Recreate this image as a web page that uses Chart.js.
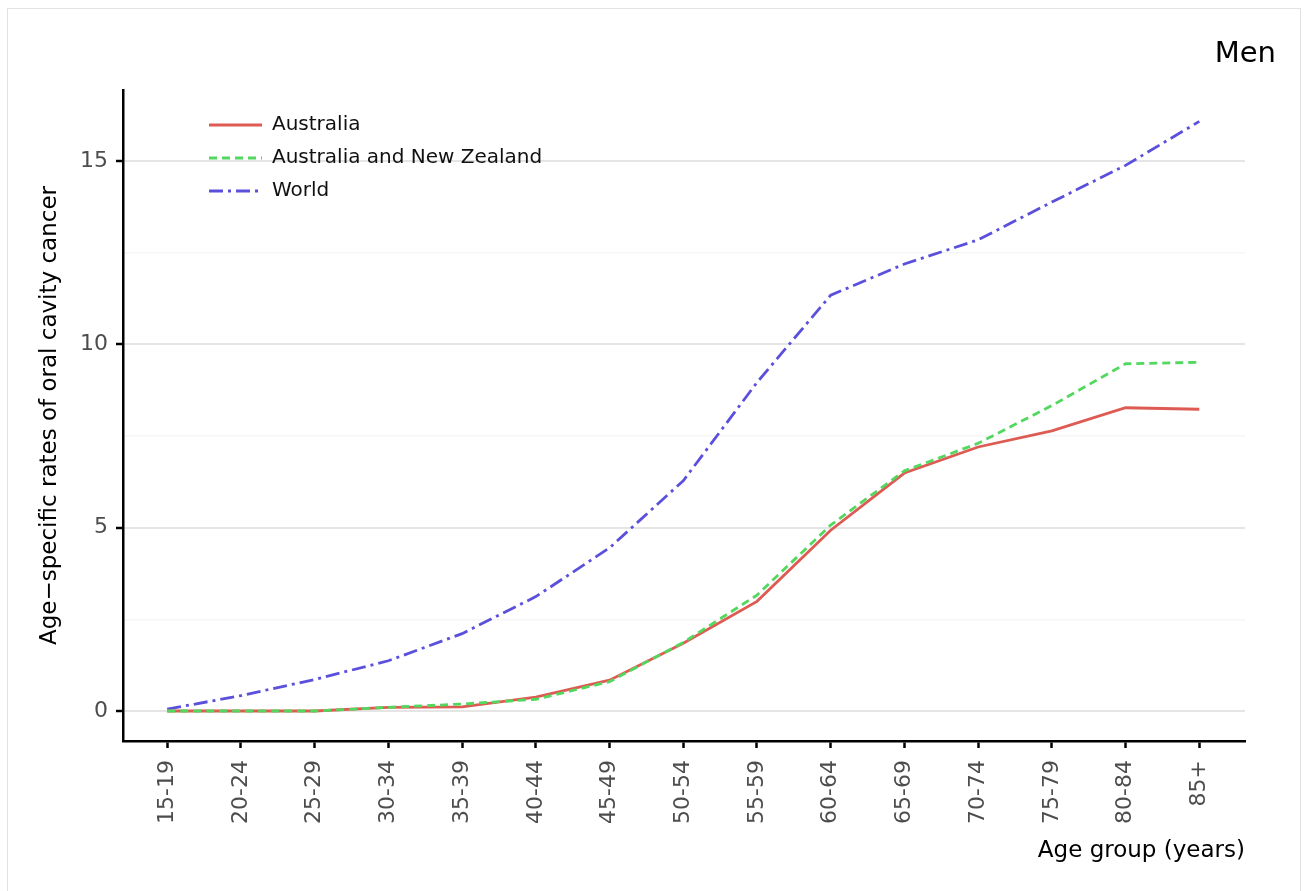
<!DOCTYPE html>
<html>
<head>
<meta charset="utf-8">
<script src="https://cdn.jsdelivr.net/npm/chart.js@4.4.0/dist/chart.umd.min.js"></script>
<style>
  html, body { margin: 0; padding: 0; background: #fff; overflow: hidden; }
  #frame { position: absolute; left: 7px; top: 8px; width: 1292px; height: 920px; border: 1px solid #e2e2e2; }
  #wrap { position: absolute; left: 0; top: 0; width: 1309px; height: 891px; }
</style>
</head>
<body>
<div id="frame"></div>
<div id="wrap"><canvas id="chart" width="1309" height="891"></canvas></div>
<script>
// Age groups on the x axis
const ageGroups = ["15-19", "20-24", "25-29", "30-34", "35-39", "40-44", "45-49",
    "50-54", "55-59", "60-64", "65-69", "70-74", "75-79", "80-84", "85+"];

// Age-specific rates, men
const australia = [0, 0, 0, 0.1, 0.11, 0.38, 0.84, 1.85, 2.99, 4.93, 6.49, 7.2, 7.64, 8.27, 8.23];
const ausNz = [0, 0, 0, 0.1, 0.19, 0.32, 0.8, 1.87, 3.16, 5.07, 6.55, 7.3, 8.33, 9.47, 9.51];
const world = [0.05, 0.42, 0.86, 1.37, 2.11, 3.12, 4.45, 6.28, 8.96, 11.34, 12.19, 12.85, 13.88, 14.88, 16.08];

// y ticks: majors get labels, minors only a faint grid line
const yTicks = [0, 2.5, 5, 7.5, 10, 12.5, 15];

const FONT = "'DejaVu Sans', sans-serif";
Chart.defaults.font.family = FONT;

const toPoints = (values) => values.map((v, i) => ({ x: i, y: v }));
const isMajor = (ctx) => ctx.tick && ctx.tick.value % 5 === 0;

// panel label + legend drawn inside the plot
const overlay = {
    id: "overlay",
    afterDraw(chart) {
        const ctx = chart.ctx;
        ctx.save();
        ctx.fillStyle = "#000";
        ctx.font = "29px " + FONT;
        ctx.textAlign = "right";
        ctx.textBaseline = "middle";
        ctx.fillText("Men", 1276, 54);

        ctx.font = "20px " + FONT;
        ctx.textAlign = "left";
        chart.data.datasets.forEach((ds, i) => {
            const y = 125 + i * 33;
            ctx.strokeStyle = ds.borderColor;
            ctx.lineWidth = ds.borderWidth;
            ctx.setLineDash(ds.borderDash || []);
            ctx.beginPath();
            ctx.moveTo(209, y);
            ctx.lineTo(262, y);
            ctx.stroke();
            ctx.fillStyle = "#111";
            ctx.fillText(ds.label, 272, y);
        });
        ctx.restore();
    },
};

new Chart(document.getElementById("chart"), {
    type: "line",
    data: {
        datasets: [
            {
                label: "Australia",
                data: toPoints(australia),
                borderColor: "#de5b53",
                borderWidth: 2.8,
                order: 1,
            },
            {
                label: "Australia and New Zealand",
                data: toPoints(ausNz),
                borderColor: "#52d85f",
                borderWidth: 2.8,
                borderDash: [8, 5],
                order: 0,
            },
            {
                label: "World",
                data: toPoints(world),
                borderColor: "#5b50dc",
                borderWidth: 2.8,
                borderDash: [14, 5, 3, 5],
                order: 2,
            },
        ],
    },
    options: {
        responsive: false,
        animation: false,
        devicePixelRatio: 1,
        layout: { padding: { top: 90, right: 64, left: 0, bottom: 0 } },
        elements: { point: { radius: 0 }, line: { tension: 0 } },
        plugins: { legend: { display: false }, tooltip: { enabled: false } },
        scales: {
            x: {
                type: "linear",
                min: -0.6,
                max: 14.62,
                afterBuildTicks: (s) => { s.ticks = ageGroups.map((_, i) => ({ value: i })); },
                afterFit: (s) => { s.height = 150; },
                ticks: {
                    autoSkip: false,
                    minRotation: 90,
                    maxRotation: 90,
                    padding: 12,
                    color: "#4d4d4d",
                    font: { size: 22 },
                    callback: (v) => ageGroups[v],
                },
                grid: { drawOnChartArea: false, tickLength: 7, tickColor: "#000", tickWidth: 2.5 },
                border: { color: "#000", width: 2.5 },
                title: {
                    display: true,
                    text: "Age group (years)",
                    align: "end",
                    color: "#000",
                    font: { size: 23 },
                    padding: { top: 0, bottom: 26 },
                },
            },
            y: {
                type: "linear",
                min: -0.818,
                max: 16.936,
                afterBuildTicks: (s) => { s.ticks = yTicks.map((v) => ({ value: v })); },
                afterFit: (s) => { s.width = 123; },
                ticks: {
                    autoSkip: false,
                    padding: 8,
                    color: "#4d4d4d",
                    font: { size: 22 },
                    callback: (v) => (v % 5 === 0 ? v : ""),
                },
                grid: {
                    color: (ctx) => (isMajor(ctx) ? "#e5e5e5" : "#f6f6f6"),
                    lineWidth: (ctx) => (isMajor(ctx) ? 2 : 1.5),
                    tickLength: 7,
                    tickColor: (ctx) => (isMajor(ctx) ? "#000" : "rgba(0,0,0,0)"),
                    tickWidth: 2.5,
                },
                border: { color: "#000", width: 2.5 },
                title: {
                    display: true,
                    text: "Age\u2212specific rates of oral cavity cancer",
                    color: "#000",
                    font: { size: 23 },
                    padding: { top: 36, bottom: 0 },
                },
            },
        },
    },
    plugins: [overlay],
});
</script>
</body>
</html>
